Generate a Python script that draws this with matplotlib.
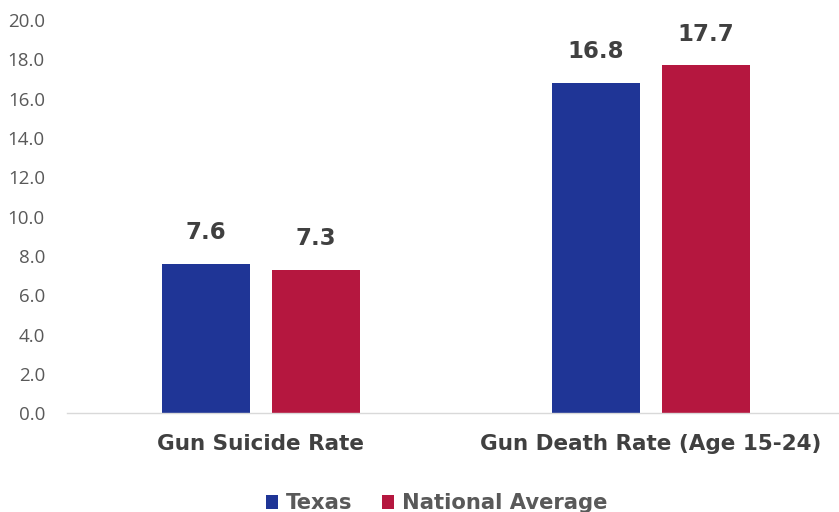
import matplotlib
matplotlib.use("Agg")
import matplotlib.pyplot as plt
import numpy as np

categories = ["Gun Suicide Rate", "Gun Death Rate (Age 15-24)"]
series_names = ["Texas", "National Average"]
texas = [7.6, 16.8]
national = [7.3, 17.7]
yticks = [0, 2, 4, 6, 8, 10, 12, 14, 16, 18, 20]

colors = ["#1F3596", "#B5173F"]

fig = plt.figure(figsize=(8.39, 5.12), dpi=100)
ax = fig.add_axes([0.080, 0.193, 0.920, 0.768])

x = np.arange(len(categories))
w = 0.2256
off = 0.1415
for vals, o, c, name in [(texas, -off, colors[0], series_names[0]), (national, off, colors[1], series_names[1])]:
    bars = ax.bar(x + o, vals, width=w, color=c, label=name)
    for b, v in zip(bars, vals):
        ax.text(b.get_x() + b.get_width() / 2, v + 1.0, f"{v:.1f}", ha="center", va="bottom",
                fontsize=16.5, fontweight="bold", color="#404040", family="DejaVu Sans")

ax.set_xlim(-0.497, 1.482)
ax.set_ylim(0, 20)
ax.set_yticks(yticks)
ax.set_yticklabels([f"{t:.1f}" for t in yticks], fontsize=13.5, color="#595959", family="Open Sans")
ax.tick_params(axis="y", length=0, pad=16)
ax.set_xticks(x)
ax.set_xticklabels(categories, fontsize=15.5, fontweight="bold", color="#404040", family="DejaVu Sans")
ax.tick_params(axis="x", length=0, pad=15)
for s in ["top", "right", "left"]:
    ax.spines[s].set_visible(False)
ax.spines["bottom"].set_color("#D9D9D9")
ax.spines["bottom"].set_linewidth(1.0)

leg = fig.legend(loc="lower center", bbox_to_anchor=(0.52, -0.04), ncol=2, frameon=False,
                 prop={"family": "DejaVu Sans", "weight": "bold", "size": 15.2},
                 handlelength=0.6, handleheight=0.6, handletextpad=0.35, columnspacing=1.4)
for t in leg.get_texts():
    t.set_color("#595959")

fig.savefig("out.png", dpi=100)
